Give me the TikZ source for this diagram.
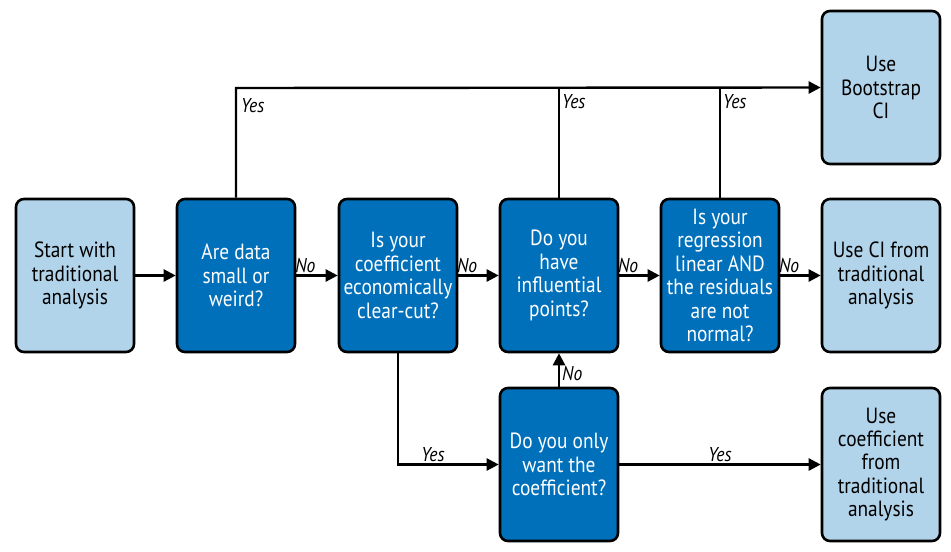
\documentclass[tikz,border=0pt]{standalone}
\usepackage{fontspec}
\setmainfont[FakeStretch=0.88]{PT Sans}
\usetikzlibrary{arrows.meta,positioning}
\definecolor{paleblue}{RGB}{178,212,234}
\definecolor{deepblue}{RGB}{0,112,187}
\tikzset{
  basebox/.style={rectangle, draw=black, line width=1.3pt, rounded corners=4pt,
    minimum width=59pt, minimum height=76.5pt, align=center,
    font=\fontsize{11}{11.7}\selectfont, inner sep=1pt},
  endbox/.style={basebox, fill=paleblue, text=black},
  askbox/.style={basebox, fill=deepblue, text=white},
  arrow/.style={draw, line width=1.2pt, -{Triangle[length=6pt,width=6pt]}},
  lbl/.style={font=\fontsize{10}{10}\selectfont\itshape, inner sep=1pt}
}
\begin{document}
\begin{tikzpicture}[x=0.5pt,y=-0.5pt]
  \useasboundingbox (0,0) rectangle (951,551);
  % main row
  \node[endbox] (start) at (75,275.5) {Start with\\traditional\\analysis};
  \node[askbox] (small) at (236,275.5) {Are data\\small or\\weird?};
  \node[askbox] (econ) at (398,275.5) {Is your\\coefficient\\economically\\clear-cut?};
  \node[askbox] (infl) at (559,275.5) {Do you\\have\\influential\\points?};
  \node[askbox] (linear) at (720,275.5) {Is your\\regression\\linear AND\\the residuals\\are not\\normal?};
  \node[endbox] (tradci) at (881,275.5) {Use CI from\\traditional\\analysis};
  % top and bottom
  \node[endbox] (boot) at (881,87.5) {Use\\Bootstrap\\CI};
  \node[askbox] (only) at (559,464.5) {Do you only\\want the\\coefficient?};
  \node[endbox] (coef) at (881,464.5) {Use\\coefficient\\from\\traditional\\analysis};
  \coordinate (topleft) at (236,88);
  % connectors
  \path[arrow] (start) -- (small);
  \path[arrow] (small) -- node[lbl, above, pos=0.22] {No} (econ);
  \path[arrow] (econ) -- node[lbl, above, pos=0.22] {No} (infl);
  \path[arrow] (infl) -- node[lbl, above, pos=0.22] {No} (linear);
  \path[arrow] (linear) -- node[lbl, above, pos=0.22] {No} (tradci);
  \path[arrow] (small.north) -- (topleft) node[lbl, below right, pos=0.93, xshift=1pt] {Yes} -- (boot.west);
  \draw[line width=1.2pt] (infl.north) -- node[lbl, right, pos=0.87] {Yes} (infl.north |- boot.west);
  \draw[line width=1.2pt] (linear.north) -- node[lbl, right, pos=0.87] {Yes} (linear.north |- boot.west);
  \path[arrow] (econ.south) |- node[lbl, above right, pos=0.6] {Yes} (only.west);
  \path[arrow] (only.north) -- node[lbl, right, pos=0.4] {No} (infl.south);
  \path[arrow] (only) -- node[lbl, above] {Yes} (coef);
\end{tikzpicture}
\end{document}
